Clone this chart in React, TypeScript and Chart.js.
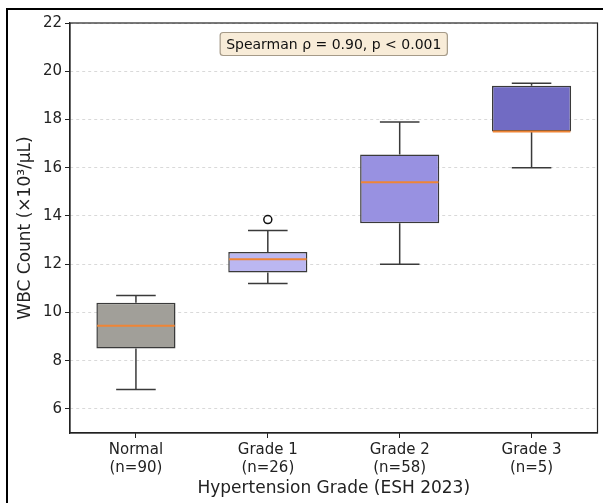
import React, { useEffect, useRef } from 'react';
import { Chart, registerables } from 'chart.js';

Chart.register(...registerables);

const categories = [
  ['Normal', '(n=90)'],
  ['Grade 1', '(n=26)'],
  ['Grade 2', '(n=58)'],
  ['Grade 3', '(n=5)'],
];
const whiskerLow = [6.8, 11.2, 12.0, 16.0];
const q1 = [8.5, 11.65, 13.7, 17.5];
const median = [9.45, 12.2, 15.4, 17.5];
const q3 = [10.4, 12.5, 16.55, 19.4];
const whiskerHigh = [10.7, 13.4, 17.9, 19.5];
const outliers = [null, 13.85, null, null];
const yTicks = [6, 8, 10, 12, 14, 16, 18, 20, 22];
const yMin = 5;
const yMax = 22;
const boxColors = ['#a19f99', '#bbb7f1', '#9891e1', '#716bc3'];
const annotationText = 'Spearman \u03c1 = 0.90, p < 0.001';
const xTitle = 'Hypertension Grade (ESH 2023)';
const yTitle = 'WBC Count (\u00d710\u00b3/\u03bcL)';

const FONT = '"DejaVu Sans", "Noto Sans", sans-serif';

const boxPlugin = {
  id: 'boxExtras',
  afterDatasetsDraw(chart: any) {
    const meta = chart.getDatasetMeta(0);
    const y = chart.scales.y;
    const ctx = chart.ctx;
    ctx.save();
    meta.data.forEach((bar: any, i: number) => {
      const x = bar.x;
      const w = bar.width;
      const yq1 = y.getPixelForValue(q1[i]);
      const yq3 = y.getPixelForValue(q3[i]);
      const ylo = y.getPixelForValue(whiskerLow[i]);
      const yhi = y.getPixelForValue(whiskerHigh[i]);
      ctx.strokeStyle = '#3a3a3a';
      ctx.lineWidth = 1.5;
      ctx.setLineDash([]);
      ctx.beginPath();
      ctx.moveTo(x, yq3);
      ctx.lineTo(x, yhi);
      ctx.moveTo(x, yq1);
      ctx.lineTo(x, ylo);
      ctx.moveTo(x - w / 4, yhi);
      ctx.lineTo(x + w / 4, yhi);
      ctx.moveTo(x - w / 4, ylo);
      ctx.lineTo(x + w / 4, ylo);
      ctx.stroke();
      const ym = y.getPixelForValue(median[i]);
      ctx.strokeStyle = '#ef8536';
      ctx.lineWidth = 2;
      ctx.beginPath();
      ctx.moveTo(x - w / 2 + 0.8, ym);
      ctx.lineTo(x + w / 2 - 0.8, ym);
      ctx.stroke();
    });
    ctx.restore();
  },
  afterDraw(chart: any) {
    const ctx = chart.ctx;
    const a = chart.chartArea;
    ctx.save();
    // plot frame
    ctx.strokeStyle = '#222';
    ctx.lineWidth = 1.2;
    ctx.strokeRect(a.left, a.top, a.right - a.left, a.bottom - a.top);
    // figure frame
    ctx.strokeStyle = '#000';
    ctx.lineWidth = 2;
    ctx.strokeRect(7, 9, 800, 700);
    // annotation
    ctx.font = '14px ' + FONT;
    const tw = ctx.measureText(annotationText).width;
    const cx = (a.left + a.right) / 2;
    const cy = a.top + 21;
    const bw = tw + 12;
    const bh = 23;
    const bx = cx - bw / 2;
    const by = cy - bh / 2;
    ctx.beginPath();
    ctx.roundRect(bx, by, bw, bh, 3);
    ctx.fillStyle = '#f8ecd8';
    ctx.fill();
    ctx.strokeStyle = '#a59a88';
    ctx.lineWidth = 1.2;
    ctx.stroke();
    ctx.fillStyle = '#111';
    ctx.textAlign = 'center';
    ctx.textBaseline = 'middle';
    ctx.fillText(annotationText, cx, cy + 1);
    ctx.restore();
  },
};

export default function App() {
  const ref = useRef<HTMLCanvasElement>(null);
  useEffect(() => {
    if (!ref.current) return;
    Chart.defaults.font.family = FONT;
    const chart = new Chart(ref.current, {
      type: 'bar',
      data: {
        labels: categories,
        datasets: [
          {
            type: 'bar',
            data: q1.map((v, i) => [v, q3[i]]),
            backgroundColor: boxColors,
            borderColor: '#3a3a3a',
            borderWidth: 1.5,
            borderSkipped: false,
            barPercentage: 0.6,
            categoryPercentage: 1,
          } as any,
          {
            type: 'line',
            data: outliers,
            showLine: false,
            pointRadius: 4,
            pointBackgroundColor: '#ffffff',
            pointBorderColor: '#111',
            pointBorderWidth: 1.5,
          } as any,
        ],
      },
      options: {
        animation: false,
        responsive: true,
        maintainAspectRatio: false,
        layout: { padding: { top: 23, right: 3, left: 0, bottom: 0 } },
        plugins: { legend: { display: false }, tooltip: { enabled: false } },
        scales: {
          x: {
            offset: true,
            grid: {
              offset: false,
              drawOnChartArea: false,
              drawTicks: true,
              tickLength: 5,
              tickColor: '#222',
              tickWidth: 1,
            },
            border: { color: '#222', width: 1.2 },
            ticks: { color: '#222', font: { size: 15 }, padding: 3, maxRotation: 0 },
            title: {
              display: true,
              text: xTitle,
              color: '#222',
              font: { size: 17 },
              padding: { top: 0, bottom: 4 },
            },
            afterFit: (s: any) => {
              s.height = 70;
            },
          },
          y: {
            min: yMin,
            max: yMax,
            afterBuildTicks: (s: any) => {
              s.ticks = yTicks.map((v) => ({ value: v }));
            },
            grid: {
              color: '#d0d0d0',
              lineWidth: 0.8,
              drawTicks: true,
              tickLength: 5,
              tickColor: '#222',
              tickWidth: 1,
            },
            border: { color: '#222', width: 1.2, dash: [3, 3] },
            ticks: { color: '#222', font: { size: 15 }, padding: 3 },
            title: {
              display: true,
              text: yTitle,
              color: '#222',
              font: { size: 17 },
              padding: { top: 15, bottom: 0 },
            },
            afterFit: (s: any) => {
              s.width = 70;
            },
          },
        },
      },
      plugins: [boxPlugin],
    });
    return () => chart.destroy();
  }, []);
  return (
    <div style={{ position: 'absolute', left: 0, top: 0, width: 603, height: 503 }}>
      <canvas ref={ref} />
    </div>
  );
}
